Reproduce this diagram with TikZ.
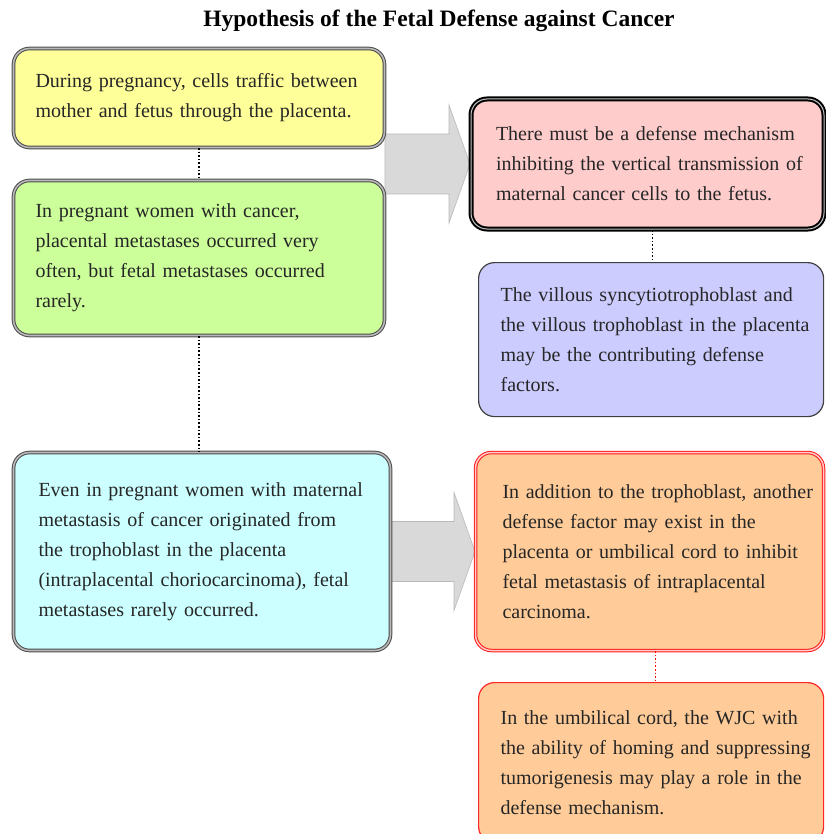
\documentclass[tikz,border=0pt]{standalone}
\usepackage{fontspec}
\setmainfont{Liberation Serif}
\usetikzlibrary{calc,backgrounds}
\definecolor{boxyellow}{RGB}{255,255,153}
\definecolor{boxgreen}{RGB}{204,255,153}
\definecolor{boxpink}{RGB}{255,204,204}
\definecolor{boxlav}{RGB}{204,204,255}
\definecolor{boxcyan}{RGB}{204,255,255}
\definecolor{boxorange}{RGB}{255,204,153}
\tikzset{
  box/.style={anchor=north west, rounded corners=16pt, align=left, inner ysep=0pt,
    inner xsep=22pt, text=black!85, font=\fontsize{20}{30}\selectfont,
    execute at begin node={\rightskip=-20pt plus 1fil\relax}},
  greybox/.style={box, draw=black!70, line width=1pt, double=gray!55, double distance=1.6pt},
  blackbox/.style={box, draw=black, line width=2pt, double=gray!45, double distance=1pt},
  plainbox/.style={box, draw=black!75, line width=1.2pt},
  redbox/.style={box, draw=red!90, line width=1pt, double=red!20, double distance=1.5pt},
  redplain/.style={box, draw=red!85, line width=1.2pt},
  link/.style={dotted, line width=1.6pt},
  bigarrow/.style={fill=gray!30, draw=gray!55, line width=0.6pt}
}
% block arrow from #1 to the tip #2
\newcommand{\bigarrowto}[2]{%
  \draw[bigarrow] let \p1=(#1), \p2=(#2) in
    (\x1,\y2+30pt) -- (\x2-21pt,\y2+30pt) -- (\x2-21pt,\y2+59pt) -- (\x2,\y2)
    -- (\x2-21pt,\y2-59pt) -- (\x2-21pt,\y2-30pt) -- (\x1,\y2-30pt) -- cycle;}
\begin{document}
\begin{tikzpicture}[x=1pt, y=-1pt]
\useasboundingbox (0,0) rectangle (825,834);
\node (title) at (439,21) {\fontsize{23.5}{26}\selectfont\bfseries Hypothesis of the Fetal Defense against Cancer};
% left column
\node[greybox, fill=boxyellow, minimum width=371, minimum height=99, text width=327] (yellow) at (13,48)
  {During pregnancy, cells traffic between\\mother and fetus through the placenta.};
\node[greybox, fill=boxgreen, minimum width=371, minimum height=155, text width=327] (green) at (13,180)
  {In pregnant women with cancer,\\placental metastases occurred very\\often, but fetal metastases occurred\\rarely.};
\node[greybox, fill=boxcyan, minimum width=377, minimum height=198, text width=327, inner xsep=25pt] (cyan) at (13,452)
  {Even in pregnant women with maternal\\metastasis of cancer originated from\\the trophoblast in the placenta\\(intraplacental choriocarcinoma), fetal\\metastases rarely occurred.};
% right column
\node[blackbox, fill=boxpink, minimum width=353, minimum height=130, text width=303, inner xsep=25pt] (pink) at (470,98)
  {There must be a defense mechanism\\inhibiting the vertical transmission of\\maternal cancer cells to the fetus.};
\node[plainbox, fill=boxlav, minimum width=345, minimum height=154, text width=301] (lav) at (478,262)
  {The villous syncytiotrophoblast and\\the villous trophoblast in the placenta\\may be the contributing defense\\factors.};
\node[redbox, fill=boxorange, minimum width=348, minimum height=198, text width=294, inner xsep=27pt] (orange) at (475,452)
  {In addition to the trophoblast, another\\defense factor may exist in the\\placenta or umbilical cord to inhibit\\fetal metastasis of intraplacental\\carcinoma.};
\node[redplain, fill=boxorange, minimum width=345, minimum height=160, text width=301] (wjc) at (478,682)
  {In the umbilical cord, the WJC with\\the ability of homing and suppressing\\tumorigenesis may play a role in the\\defense mechanism.};
% links
\draw[link] (yellow.south) -- (green.north);
\draw[link] (green.south) -- (green.south |- cyan.north);
\draw[link] ([xshift=5pt]pink.south) -- ([xshift=5pt]pink.south |- lav.north);
\draw[link, red] ([xshift=6pt]orange.south) -- ([xshift=6pt]orange.south |- wjc.north);
% big arrows
\begin{scope}[on background layer]
  \coordinate (gap) at ($(yellow.south east)!0.5!(green.north east)$);
  \bigarrowto{gap}{pink.west}
  \bigarrowto{cyan.east}{orange.west}
\end{scope}
\end{tikzpicture}
\end{document}
